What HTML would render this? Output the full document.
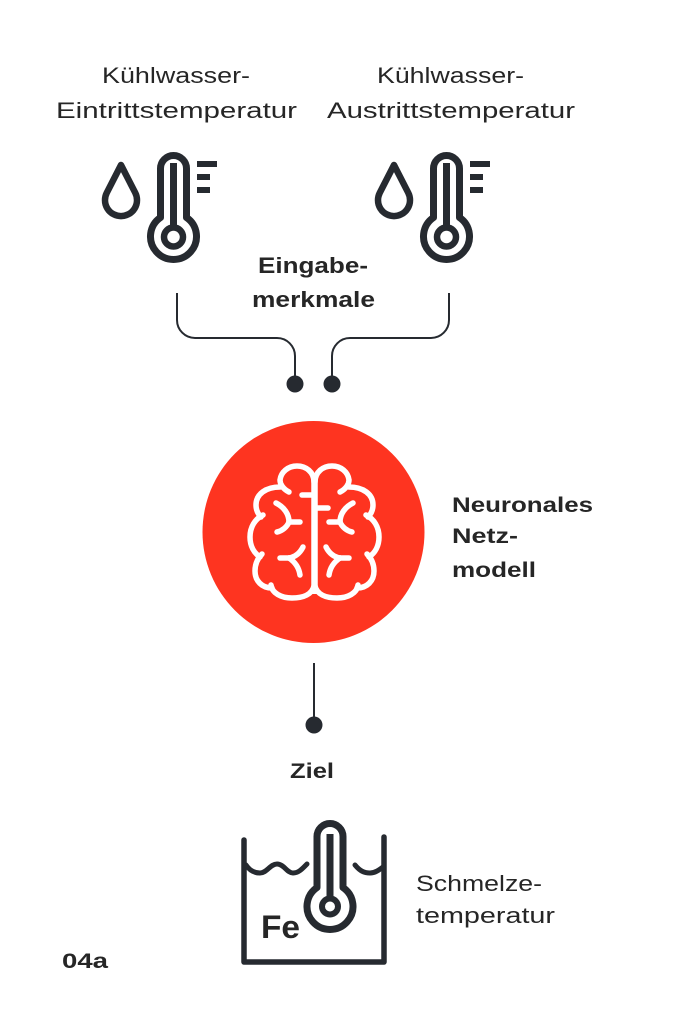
<!DOCTYPE html>
<html>
<head>
<meta charset="utf-8">
<style>
  html,body{margin:0;padding:0;background:#ffffff;}
  svg{display:block;}
  .reg{font-family:"Liberation Sans",sans-serif;font-weight:400;fill:#262626;}
  .bold{font-family:"Liberation Sans",sans-serif;font-weight:700;fill:#262626;}
</style>
</head>
<body>
<svg width="680" height="1020" viewBox="0 0 680 1020" xmlns="http://www.w3.org/2000/svg">
  <rect x="0" y="0" width="680" height="1020" fill="#ffffff"/>

  <!-- Header labels -->
  <text class="reg" x="102" y="83" font-size="22" textLength="148" lengthAdjust="spacingAndGlyphs">Kühlwasser-</text>
  <text class="reg" x="56" y="118" font-size="22" textLength="241" lengthAdjust="spacingAndGlyphs">Eintrittstemperatur</text>
  <text class="reg" x="377" y="83" font-size="22" textLength="147" lengthAdjust="spacingAndGlyphs">Kühlwasser-</text>
  <text class="reg" x="327" y="118" font-size="22" textLength="248" lengthAdjust="spacingAndGlyphs">Austrittstemperatur</text>

  <!-- Icon: droplet + thermometer (left) -->
  <g id="ico" fill="none" stroke="#262a30" stroke-linejoin="round">
    <path d="M121,165 L135.2,192.7 A16,16 0 1 1 106.8,192.7 Z" stroke-width="6.5"/>
    <path d="M160.5,217.5 V168.5 A13,13 0 0 1 186.5,168.5 V217.5 A23,23 0 1 1 160.5,217.5 Z" stroke-width="7"/>
    <line x1="173.5" y1="163" x2="173.5" y2="228" stroke-width="7"/>
    <circle cx="173.5" cy="237" r="9.5" stroke-width="6.5"/>
    <line x1="197" y1="164" x2="217" y2="164" stroke-width="6"/>
    <line x1="197" y1="177" x2="210" y2="177" stroke-width="6"/>
    <line x1="197" y1="190" x2="210" y2="190" stroke-width="6"/>
  </g>
  <!-- Icon right -->
  <use href="#ico" transform="translate(273,0)"/>

  <!-- Eingabemerkmale -->
  <text class="bold" x="258" y="273" font-size="22" textLength="110" lengthAdjust="spacingAndGlyphs">Eingabe-</text>
  <text class="bold" x="252" y="307" font-size="22" textLength="123" lengthAdjust="spacingAndGlyphs">merkmale</text>

  <!-- Connectors -->
  <g fill="none" stroke="#262a30" stroke-width="2">
    <path d="M177,293 V320 A18,18 0 0 0 195,338 H277 A18,18 0 0 1 295,356 V383"/>
    <path d="M449,293 V320 A18,18 0 0 1 431,338 H350 A18,18 0 0 0 332,356 V383"/>
    <line x1="314" y1="663" x2="314" y2="725"/>
  </g>
  <circle cx="295" cy="384" r="8.5" fill="#262a30"/>
  <circle cx="332" cy="384" r="8.5" fill="#262a30"/>
  <circle cx="314" cy="725" r="8.5" fill="#262a30"/>

  <!-- Red circle -->
  <circle cx="313.5" cy="532" r="111" fill="#fe3420"/>

  <!-- Brain -->
  <g fill="none" stroke="#ffffff" stroke-width="5.5" stroke-linecap="round" stroke-linejoin="round">
    <g id="hemi">
      <path d="M314,482 C314,472 306,466 297,466 C288,466 281,472 280,480 C280,484 283,489 289,492"/>
      <path d="M280,487 C266,487 256,494 256,505 C256,510 258,514 261,517"/>
      <path d="M263,515 C255,519 250,527 250,537 C250,546 254,553 260,557"/>
      <path d="M262,554 C257,559 255,565 255,571 C255,581 262,588 272,588"/>
      <path d="M271,585 C272,593 281,598 292,598 C304,598 312,594 314,586"/>
      <path d="M276,503 C284,507 289,514 289,522"/>
      <path d="M289,522 H300"/>
      <path d="M289,522 C287,527 282,531 277,532"/>
      <path d="M303,547 C300,553 295,557 289,558"/>
      <path d="M289,558 H280"/>
      <path d="M289,558 C295,562 299,568 300,575"/>
    </g>
    <use href="#hemi" transform="translate(629,0) scale(-1,1)"/>
    <line x1="314.5" y1="478" x2="314.5" y2="594" stroke-width="6.5" stroke-linecap="butt"/>
    <path d="M302,495 H314"/>
    <path d="M315,508 H328"/>
  </g>

  <!-- Neuronales Netzmodell -->
  <text class="bold" x="452" y="512" font-size="21" textLength="141" lengthAdjust="spacingAndGlyphs">Neuronales</text>
  <text class="bold" x="452" y="543" font-size="21" textLength="66" lengthAdjust="spacingAndGlyphs">Netz-</text>
  <text class="bold" x="452" y="577" font-size="21" textLength="84" lengthAdjust="spacingAndGlyphs">modell</text>

  <!-- Ziel -->
  <text class="bold" x="290" y="778" font-size="21" textLength="44" lengthAdjust="spacingAndGlyphs">Ziel</text>

  <!-- Melt icon -->
  <g fill="none" stroke="#262a30" stroke-linejoin="round" stroke-linecap="round">
    <path d="M244,840 V962 H384 V837" stroke-width="5.5"/>
    <path d="M246,865 C250,871 255,873 260,873 C267,873 270,864 277,864 C284,864 287,873 293,873 C299,873 303,868 307,864" stroke-width="5"/>
    <path d="M355,865 C360,871 364,873 370,873 C375,873 379,870 383,867" stroke-width="5"/>
    <path d="M317,887.5 V836.5 A13,13 0 0 1 343,836.5 V887.5 A23,23 0 1 1 317,887.5 Z" stroke-width="7"/>
    <line x1="330" y1="834" x2="330" y2="898" stroke-width="7" stroke-linecap="butt"/>
    <circle cx="330" cy="906.5" r="8" stroke-width="6"/>
  </g>
  <text class="bold" x="261" y="938" font-size="32" textLength="39" lengthAdjust="spacingAndGlyphs">Fe</text>

  <!-- Schmelzetemperatur -->
  <text class="reg" x="416" y="891" font-size="22" textLength="126" lengthAdjust="spacingAndGlyphs">Schmelze-</text>
  <text class="reg" x="416" y="923" font-size="22" textLength="139" lengthAdjust="spacingAndGlyphs">temperatur</text>

  <!-- Figure id -->
  <text class="bold" x="62" y="968" font-size="21" textLength="46" lengthAdjust="spacingAndGlyphs">04a</text>
</svg>
</body>
</html>
